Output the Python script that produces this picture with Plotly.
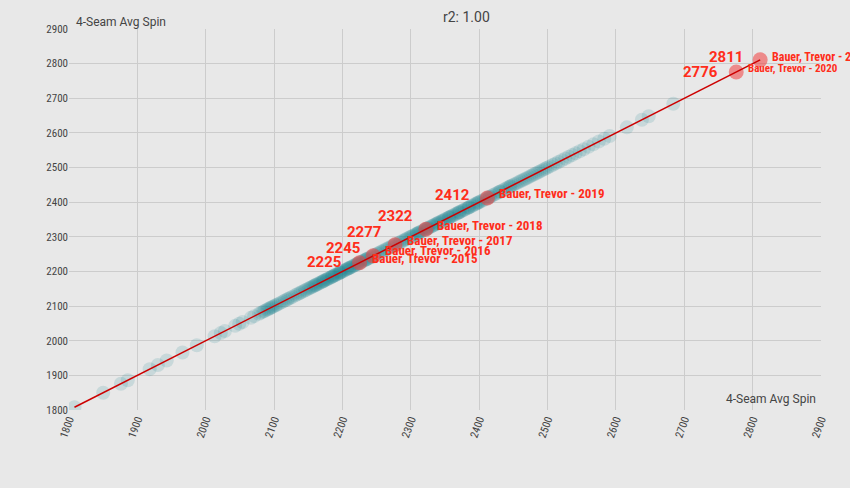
import plotly.graph_objects as go

# All pitchers: 4-Seam Avg Spin (same metric on both axes, r2 = 1.00)
spin_values = [
    1808, 1850, 1876, 1886, 1918, 1930, 1943, 1966, 1987, 2013, 2022, 2028, 2043, 2049, 2054, 2066, 2071,
    2078, 2081, 2084, 2086, 2089, 2091, 2093, 2095, 2097, 2099, 2102, 2104, 2107, 2110, 2113, 2116,
    2119, 2121, 2124, 2127, 2131, 2134, 2137, 2139, 2142, 2145, 2147, 2150, 2152, 2154, 2156, 2158,
    2161, 2163, 2165, 2167, 2169, 2171, 2173, 2175, 2177, 2178, 2180, 2182, 2184, 2186, 2188, 2189,
    2191, 2193, 2195, 2197, 2198, 2200, 2202, 2204, 2206, 2207, 2209, 2211, 2213, 2215, 2217, 2219,
    2221, 2223, 2226, 2228, 2230, 2232, 2234, 2236, 2238, 2241, 2243, 2246, 2248, 2251, 2253, 2256,
    2258, 2261, 2264, 2266, 2269, 2272, 2274, 2277, 2280, 2283, 2285, 2288, 2291, 2293, 2295, 2298,
    2300, 2302, 2304, 2307, 2309, 2311, 2313, 2315, 2318, 2320, 2322, 2324, 2326, 2329, 2331, 2333,
    2335, 2337, 2339, 2342, 2344, 2346, 2348, 2350, 2352, 2355, 2357, 2359, 2361, 2363, 2366, 2368,
    2370, 2372, 2375, 2377, 2379, 2382, 2384, 2386, 2389, 2391, 2394, 2396, 2399, 2401, 2404, 2407,
    2410, 2413, 2416, 2419, 2422, 2425, 2428, 2431, 2434, 2437, 2440, 2443, 2446, 2449, 2452, 2455,
    2458, 2461, 2464, 2467, 2470, 2473, 2476, 2479, 2482, 2485, 2488, 2491, 2494, 2497, 2500, 2504,
    2508, 2512, 2516, 2521, 2526, 2531, 2536, 2541, 2547, 2553, 2560, 2567, 2575, 2583, 2591, 2616,
    2638, 2648, 2684,
    2160, 2172, 2185, 2196, 2210, 2222, 2235, 2310, 2325, 2340, 2356, 2371, 2385, 2398, 2415, 2430, 2445,
]

# Highlighted player seasons
bauer_names = ["Bauer, Trevor - 2015", "Bauer, Trevor - 2016", "Bauer, Trevor - 2017",
               "Bauer, Trevor - 2018", "Bauer, Trevor - 2019", "Bauer, Trevor - 2020",
               "Bauer, Trevor - 2021"]
bauer_spin = [2225, 2245, 2277, 2322, 2412, 2776, 2811]

# Regression line end points (min and max of data)
fit_x = [1808, 2811]
fit_y = [1808, 2811]

title_text = "r2: 1.00"
axis_label = "4-Seam Avg Spin"
tick_vals = [1800, 1900, 2000, 2100, 2200, 2300, 2400, 2500, 2600, 2700, 2800, 2900]

# label placement (pixel shifts / sizes, style only)
value_shift = [(-17, 1), (-11, 8), (-12, 13), (-11, 13), (-15, 3), (-16, 0), (-15, 3)]
name_shift = [(10, 4), (10, 5), (10, 4), (9, 4), (10, 5), (10, 3), (10, 3)]
name_size = [13, 13, 13, 13, 13, 11, 12]

RED = "#ff2d1a"
BG = "#e8e8e8"
COND = "Roboto Condensed, Liberation Sans Narrow, DejaVu Sans Condensed, Roboto, sans-serif"

fig = go.Figure()

fig.add_trace(go.Scatter(
    x=spin_values, y=spin_values, mode="markers",
    marker=dict(size=14, color="rgba(20,130,142,0.15)", line=dict(width=0)),
    hoverinfo="skip", showlegend=False,
))

fig.add_trace(go.Scatter(
    x=bauer_spin, y=bauer_spin, mode="markers",
    marker=dict(size=15, color="rgba(240,60,60,0.55)", line=dict(width=0)),
    cliponaxis=False, showlegend=False, hoverinfo="skip",
))

fig.add_trace(go.Scatter(
    x=fit_x, y=fit_y, mode="lines",
    line=dict(color="#cc0000", width=1.5),
    showlegend=False, hoverinfo="skip",
))

annotations = [
    dict(text=title_text, xref="paper", yref="paper", x=0.529, y=1, yshift=12,
         xanchor="center", yanchor="middle", showarrow=False,
         font=dict(family="Roboto, sans-serif", size=14, color="#444444")),
    dict(text=axis_label, xref="paper", yref="paper", x=0, y=1, xshift=5, yshift=7,
         xanchor="left", yanchor="middle", showarrow=False,
         font=dict(family="Roboto, sans-serif", size=12, color="#444444")),
    dict(text=axis_label, xref="paper", yref="paper", x=1, y=0, xshift=-3, yshift=11,
         xanchor="right", yanchor="middle", showarrow=False,
         font=dict(family="Roboto, sans-serif", size=12, color="#444444")),
]
for v, name, vs, ns, nsz in zip(bauer_spin, bauer_names, value_shift, name_shift, name_size):
    annotations.append(dict(
        text=str(v), x=v, y=v, xref="x", yref="y", showarrow=False,
        xanchor="right", yanchor="middle", xshift=vs[0], yshift=vs[1],
        font=dict(family="Roboto, sans-serif", size=15, color=RED, weight="bold"),
    ))
    annotations.append(dict(
        text=name, x=v, y=v, xref="x", yref="y", showarrow=False,
        xanchor="left", yanchor="middle", xshift=ns[0], yshift=ns[1],
        font=dict(family=COND, size=nsz, color=RED, weight="bold"),
    ))

axis_common = dict(
    range=[1800, 2900], tickvals=tick_vals, showgrid=True, gridcolor="#cccccc",
    gridwidth=1, zeroline=False, showline=False, ticks="",
    tickfont=dict(family=COND, size=11, color="#444444"),
)

fig.update_layout(
    width=850, height=488,
    paper_bgcolor=BG, plot_bgcolor=BG,
    margin=dict(l=69, r=29, t=29, b=78),
    xaxis=dict(**axis_common, tickangle=-70),
    yaxis=dict(**axis_common),
    annotations=annotations,
)

fig.write_html("out.html")
